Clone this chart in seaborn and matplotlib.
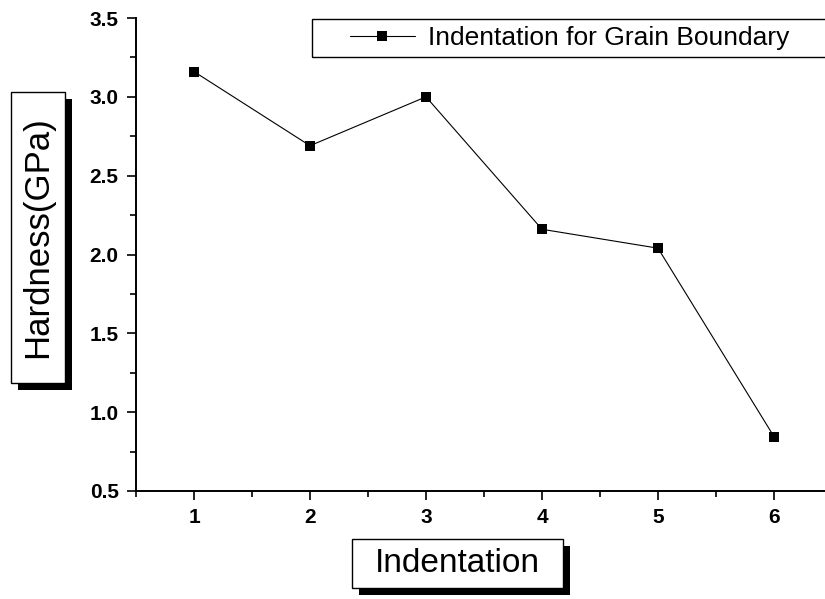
import matplotlib
matplotlib.use("Agg")
import matplotlib.pyplot as plt
from matplotlib.patches import Rectangle
from matplotlib.ticker import MultipleLocator, FormatStrFormatter
import seaborn as sns
import pandas as pd

# Hardness measured at successive indentations along the grain boundary
indentation = [1, 2, 3, 4, 5, 6]
hardness_gpa = [3.16, 2.69, 3.00, 2.16, 2.04, 0.845]
series_label = "Indentation for Grain Boundary"
x_title = "Indentation"
y_title = "Hardness(GPa)"

sns.set_theme(style="ticks")
plt.rcParams["font.family"] = ["Liberation Sans", "DejaVu Sans"]
for key in ("text.color", "axes.labelcolor", "xtick.color", "ytick.color",
            "axes.edgecolor"):
    plt.rcParams[key] = "black"

W, H = 825, 599
fig = plt.figure(figsize=(W / 100, H / 100), dpi=100)


def fx(px):
    return px / W


def fy(py):
    return 1 - py / H


ax = fig.add_axes([fx(136), fy(491), 696 / W, 473 / H])

df = pd.DataFrame({"Indentation": indentation, "Hardness": hardness_gpa})
sns.lineplot(data=df, x="Indentation", y="Hardness", ax=ax, color="black",
             linewidth=0.8, marker="s", markersize=7.2, markeredgewidth=0,
             markerfacecolor="black", label=series_label, legend=False)

ax.set_xlim(0.5, 6.5)
ax.set_ylim(0.5, 3.5)
ax.xaxis.set_major_locator(MultipleLocator(1))
ax.xaxis.set_minor_locator(MultipleLocator(0.5))
ax.yaxis.set_major_locator(MultipleLocator(0.5))
ax.yaxis.set_minor_locator(MultipleLocator(0.25))
ax.yaxis.set_major_formatter(FormatStrFormatter("%.1f"))
ax.set_xlabel("")
ax.set_ylabel("")

for side in ("top", "right"):
    ax.spines[side].set_visible(False)
for side in ("left", "bottom"):
    ax.spines[side].set_linewidth(1.4)
    ax.spines[side].set_color("black")

ax.tick_params(which="major", direction="out", length=6.5, width=1.2,
               color="black", labelcolor="black", pad=6, labelsize=15)
ax.tick_params(which="minor", direction="out", length=4, width=1.2,
               color="black")
for lab in ax.get_xticklabels() + ax.get_yticklabels():
    lab.set_fontweight("bold")

# Legend text and handle, with its own rectangular frame
handles, labels = ax.get_legend_handles_labels()
leg = ax.legend(handles, labels, loc="center left",
                bbox_to_anchor=(fx(350), fy(38)),
                bbox_transform=fig.transFigure, frameon=False, borderpad=0,
                borderaxespad=0, handlelength=2.45, handletextpad=0.5,
                fontsize=19)
for t in leg.get_texts():
    t.set_color("black")
fig.add_artist(Rectangle((fx(312), fy(57)), fx(860) - fx(312), (57 - 19) / H,
                         transform=fig.transFigure, facecolor="none",
                         edgecolor="black", linewidth=1.0))


def shadow_box(x0, y0, x1, y1, text, size, rotation=0, offset=7):
    # black drop shadow, then white framed box with the title centred in it
    fig.add_artist(Rectangle((fx(x0 + offset), fy(y1 + offset)),
                             (x1 - x0) / W, (y1 - y0) / H,
                             transform=fig.transFigure, facecolor="black",
                             edgecolor="black", linewidth=0, zorder=5))
    fig.add_artist(Rectangle((fx(x0), fy(y1)), (x1 - x0) / W, (y1 - y0) / H,
                             transform=fig.transFigure, facecolor="white",
                             edgecolor="black", linewidth=1.0, zorder=6))
    fig.text(fx((x0 + x1) / 2), fy((y0 + y1) / 2), text, fontsize=size,
             rotation=rotation, ha="center", va="center", color="black",
             zorder=7)


shadow_box(11, 92, 65, 383, y_title, 25, rotation=90)
shadow_box(352, 539, 563, 588, x_title, 24)

fig.savefig("out.png", dpi=100)
